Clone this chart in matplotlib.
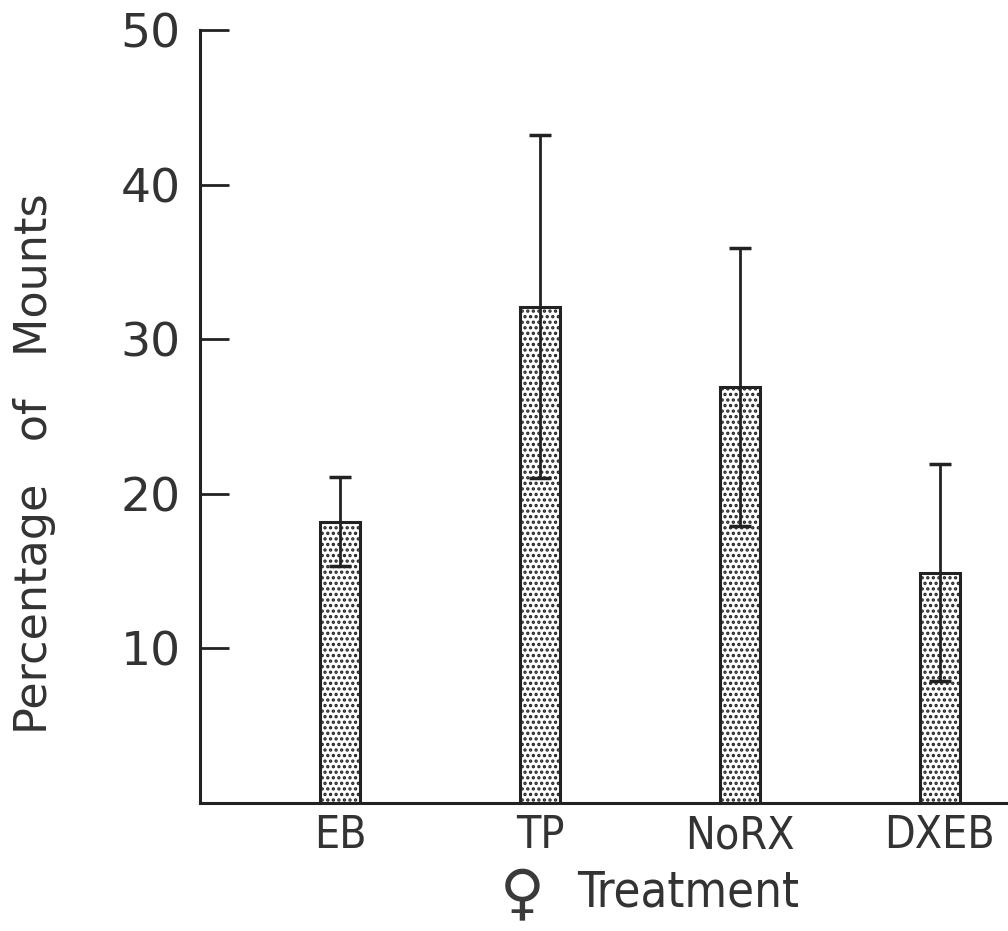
import numpy as np
import matplotlib
matplotlib.use("Agg")
import matplotlib.pyplot as plt

# values
treatments = ["EB", "TP", "NoRX", "DXEB"]
means = [18.2, 32.1, 26.9, 14.9]
errors = [2.9, 11.1, 9.0, 7.0]
yticks = [10, 20, 30, 40, 50]

plt.rcParams['hatch.linewidth'] = 1.6
plt.rcParams['hatch.color'] = '#222222'

fig = plt.figure(figsize=(10.08, 9.31), dpi=100)
ax = fig.add_axes([0.1984, 0.1375, 0.8016, 0.8303])

x = np.arange(1, len(treatments) + 1)
ax.bar(x, means, width=0.2, color='white', edgecolor='#222222',
       linewidth=2.2, hatch='...', zorder=2)
ax.errorbar(x, means, yerr=errors, fmt='none', ecolor='#222222',
            elinewidth=2.0, capsize=8, capthick=2.5, zorder=3)

ax.set_xlim(0.3, 4.34)
ax.set_ylim(0, 50)

for s in ['top', 'right']:
    ax.spines[s].set_visible(False)
for s in ['left', 'bottom']:
    ax.spines[s].set_linewidth(2.2)
    ax.spines[s].set_color('#222222')

ax.set_yticks(yticks)
ax.set_yticklabels([str(t) for t in yticks], fontsize=34, color='#333333')
ax.tick_params(axis='y', direction='in', length=21, width=2, color='#222222',
               pad=14)
ax.set_xticks(x)
ax.set_xticklabels(treatments, fontsize=32, color='#333333',
                   fontstretch='condensed')
ax.tick_params(axis='x', length=0, pad=8)

# axis titles placed in figure coordinates
fig.text(0.034, 0.5016, "Percentage   of   Mounts", rotation=90,
         fontsize=32, color='#333333', ha='center', va='center')
fig.text(0.518, 0.037, "\u2640", fontsize=44, color='#3a3a3a',
         ha='center', va='center', family=['DejaVu Sans'])
fig.text(0.5724, 0.026, "Treatment", fontsize=35, color='#333333',
         ha='left', va='baseline', fontstretch='condensed')

fig.savefig("out.png", dpi=100)
